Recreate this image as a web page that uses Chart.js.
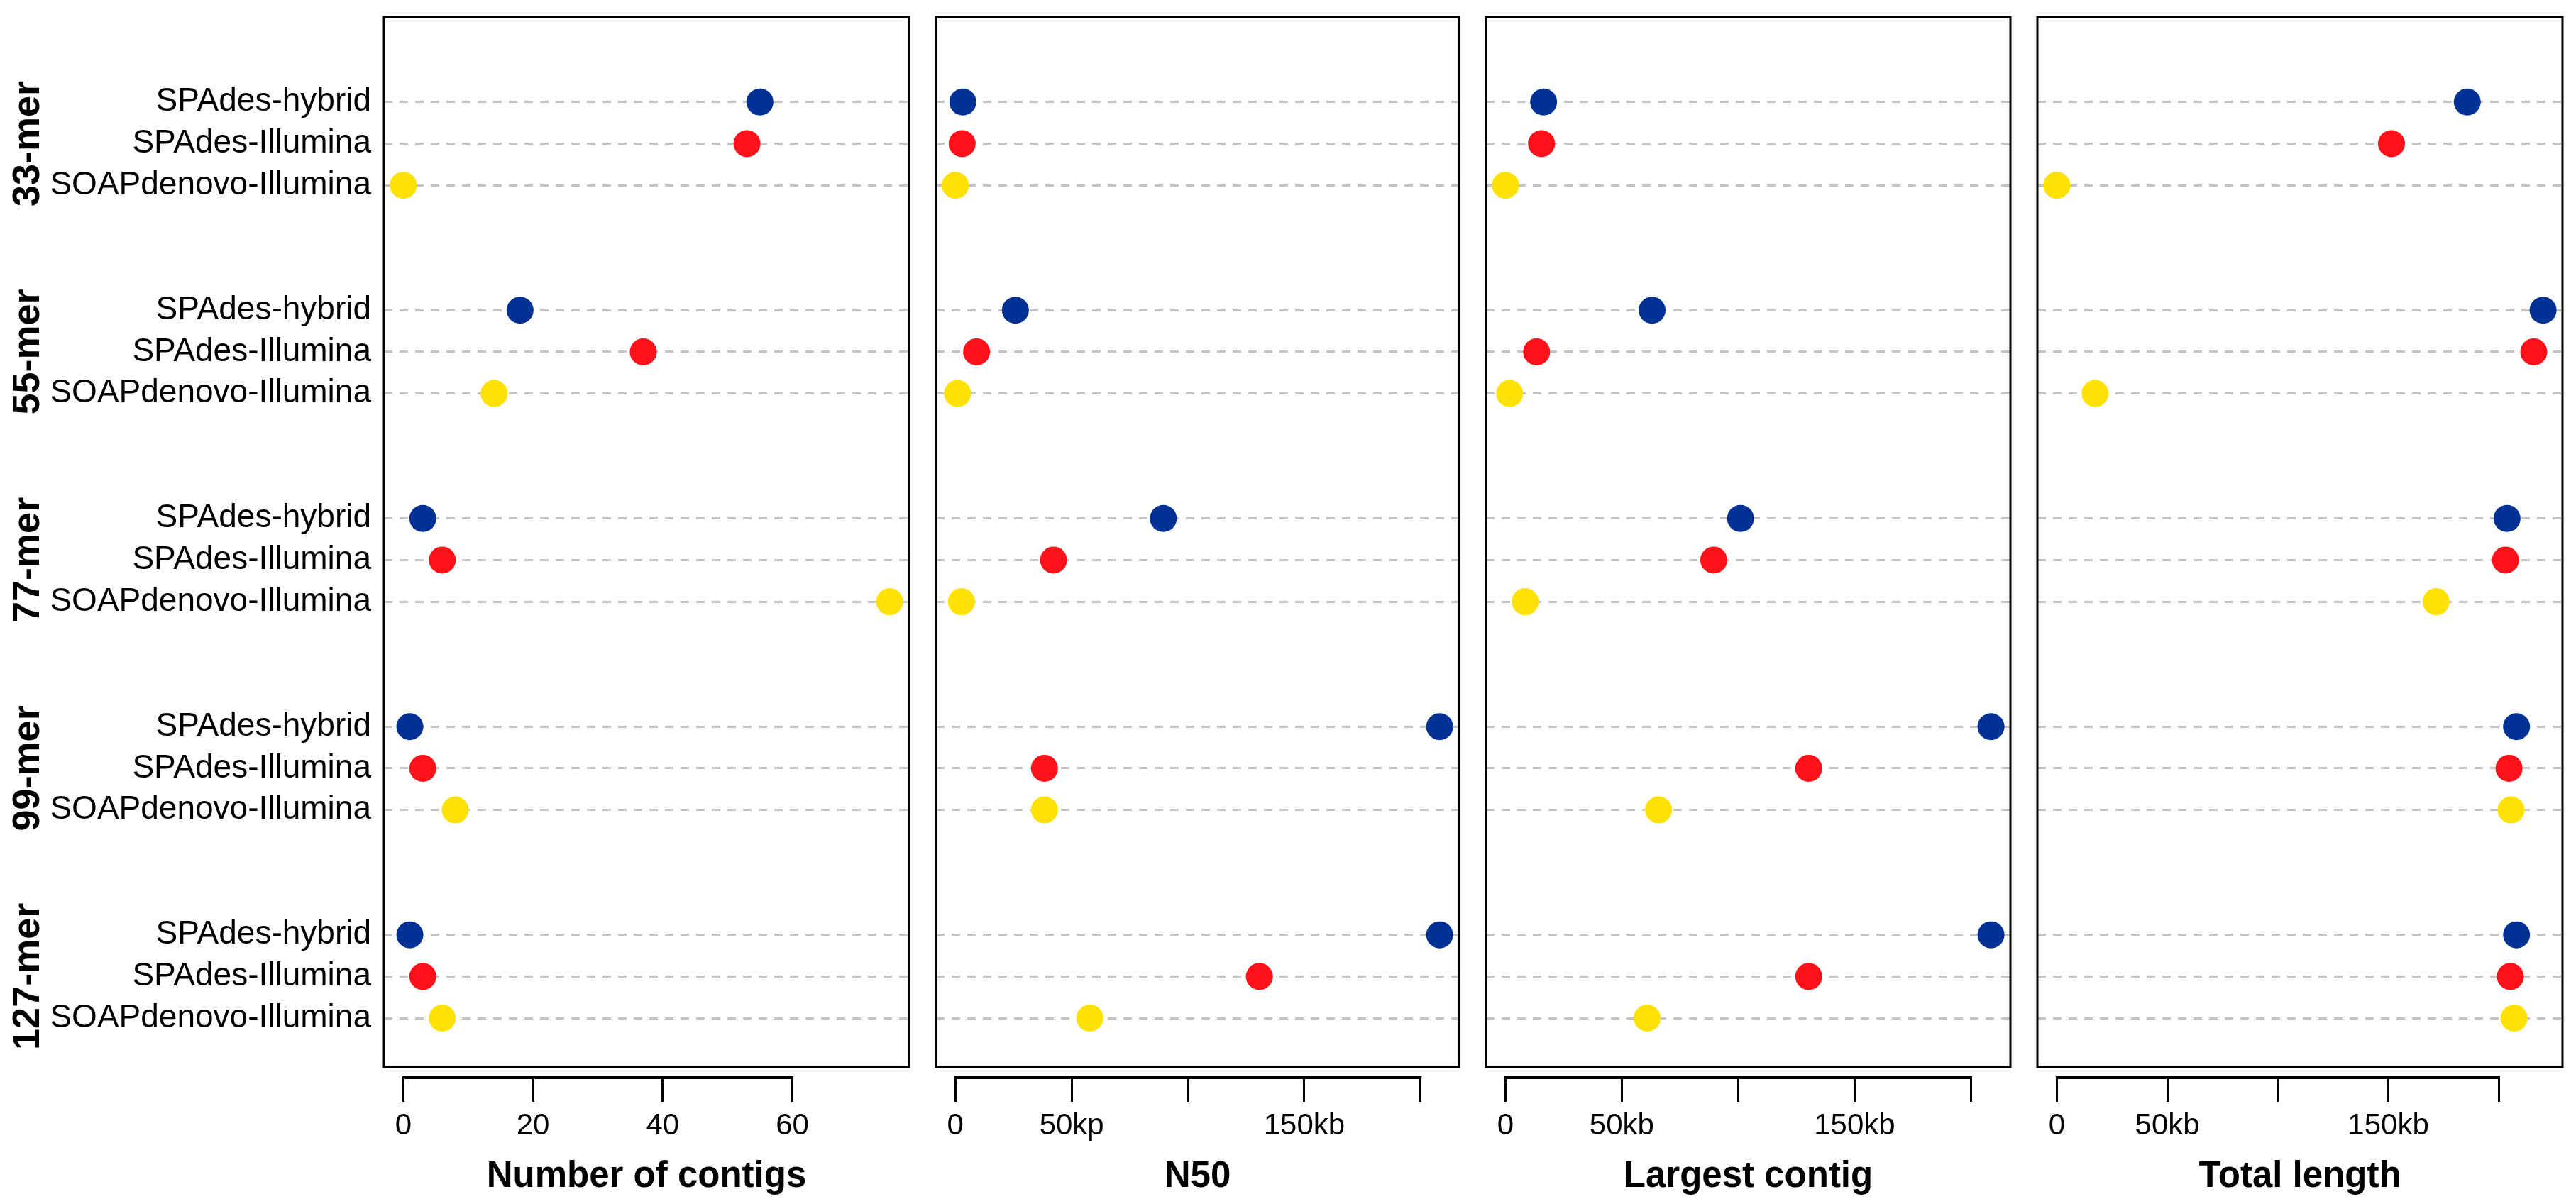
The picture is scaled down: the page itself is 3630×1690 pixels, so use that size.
<!DOCTYPE html>
<html lang="en">
<head>
<meta charset="UTF-8">
<title>Assembly statistics by k-mer</title>
<script src="https://cdn.jsdelivr.net/npm/chart.js"></script>
<style>
  body { margin: 0; background: #fff; }
  #wrap { position: relative; width: 3630px; height: 1690px; }
  canvas { position: absolute; top: 0; }
</style>
</head>
<body>
<div id="wrap">
  <canvas id="contigs" width="1300" height="1690" style="left:0px"></canvas>
  <canvas id="n50" width="775" height="1690" style="left:1300px"></canvas>
  <canvas id="largest" width="777" height="1690" style="left:2075px"></canvas>
  <canvas id="total" width="778" height="1690" style="left:2852px"></canvas>
</div>
<script>
// groups (top to bottom) and assemblers inside each group
const kmers = ['33-mer', '55-mer', '77-mer', '99-mer', '127-mer'];
const methods = ['SPAdes-hybrid', 'SPAdes-Illumina', 'SOAPdenovo-Illumina'];

// Number of contigs, one value per k-mer
const contigsHybrid = [55, 18, 3, 1, 1];
const contigsIllumina = [53, 37, 6, 3, 3];
const contigsSoap = [0, 14, 75, 8, 6];

// N50 (kb)
const n50Hybrid = [3.2, 25.8, 89.4, 208.2, 208.2];
const n50Illumina = [2.9, 9.1, 42.2, 38.3, 130.7];
const n50Soap = [0, 0.9, 2.6, 38.3, 57.8];

// Largest contig (kb)
const largestHybrid = [16.4, 63, 101, 208.6, 208.6];
const largestIllumina = [15.5, 13.4, 89.5, 130.3, 130.3];
const largestSoap = [0, 1.8, 8.5, 65.8, 60.9];

// Total length (kb)
const totalHybrid = [185.7, 220, 203.7, 208, 208];
const totalIllumina = [151.4, 215.8, 203, 204.6, 205.2];
const totalSoap = [0, 17.3, 171.6, 205.5, 206.9];

// axis ticks
const contigTicks = [0, 20, 40, 60];
const contigTickLabels = ['0', '20', '40', '60'];
const kbTicks = [0, 50, 100, 150, 200];
const n50TickLabels = ['0', '50kp', '', '150kb', ''];
const kbTickLabels = ['0', '50kb', '', '150kb', ''];

const dotColors = ['#003194', '#fe1119', '#ffe203'];
const FONT = '"Liberation Sans", Arial, Helvetica, sans-serif';

// row position of every dot: 3 rows per group, 2 empty rows between groups
const rows = [];
kmers.forEach((k, g) => methods.forEach((m, i) => rows.push(g * 5 + i)));

// box round the plot and the R-like axis line from first to last tick
const panelFrame = {
  id: 'panelFrame',
  afterDraw(chart) {
    const { ctx, chartArea: a, scales: { x } } = chart;
    ctx.save();
    ctx.strokeStyle = '#000';
    ctx.lineWidth = 3;
    ctx.strokeRect(a.left, a.top, a.right - a.left, a.bottom - 15 - a.top);
    const t = x.ticks;
    ctx.lineWidth = 4;
    ctx.beginPath();
    ctx.moveTo(x.getPixelForValue(t[0].value) - 1.5, a.bottom);
    ctx.lineTo(x.getPixelForValue(t[t.length - 1].value) + 1.5, a.bottom);
    ctx.stroke();
    ctx.restore();
  }
};

// rotated k-mer group names on the far left
const kmerLabels = {
  id: 'kmerLabels',
  afterDraw(chart) {
    const { ctx, scales: { y } } = chart;
    ctx.save();
    ctx.font = 'bold 54px ' + FONT;
    ctx.fillStyle = '#000';
    ctx.textAlign = 'center';
    ctx.textBaseline = 'middle';
    kmers.forEach((k, g) => {
      ctx.save();
      ctx.translate(40, y.getPixelForValue(g * 5 + 1));
      ctx.rotate(-Math.PI / 2);
      ctx.fillText(k, 0, 0);
      ctx.restore();
    });
    ctx.restore();
  }
};

function makePanel(id, title, series, ticks, tickLabels, showNames, pad) {
  const hi = Math.max(...series.flat());
  const ext = 0.04 * hi;
  return new Chart(document.getElementById(id), {
    type: 'scatter',
    data: {
      datasets: methods.map((m, i) => ({
        label: m,
        data: series[i].map((v, g) => ({ x: v, y: g * 5 + i })),
        backgroundColor: dotColors[i],
        borderColor: dotColors[i],
        pointRadius: 19,
        pointBorderWidth: 0
      }))
    },
    options: {
      responsive: false,
      animation: false,
      devicePixelRatio: 1,
      events: [],
      layout: { padding: { left: pad[0], right: pad[1], top: 24, bottom: 0 } },
      plugins: { legend: { display: false }, tooltip: { enabled: false } },
      scales: {
        x: {
          type: 'linear',
          min: -ext,
          max: hi + ext,
          afterBuildTicks: s => { s.ticks = ticks.map(v => ({ value: v })); },
          afterFit: s => { s.height = 171; s.paddingLeft = 0; s.paddingRight = 0; },
          grid: { drawOnChartArea: false, drawTicks: true, tickLength: 34, tickColor: '#000', tickWidth: 3, lineWidth: 3 },
          border: { display: false },
          ticks: {
            autoSkip: false, maxRotation: 0, padding: 9, color: '#000',
            font: { family: FONT, size: 42 },
            callback: (v, i) => tickLabels[i]
          },
          title: {
            display: true, text: title, color: '#000',
            font: { family: FONT, size: 51, weight: 'bold' },
            padding: { top: 0, bottom: 0 }
          }
        },
        y: {
          type: 'linear',
          reverse: true,
          min: -2.04,
          max: 23.43,
          afterBuildTicks: s => { s.ticks = rows.map(v => ({ value: v })); },
          afterFit: s => { s.width = showNames ? 541 : 0; s.paddingTop = 0; s.paddingBottom = 0; },
          grid: { drawTicks: false, color: '#c4c4c4', lineWidth: 3 },
          border: { display: false, dash: [12, 10] },
          ticks: {
            display: showNames, padding: 18, color: '#000',
            font: { family: FONT, size: 46 },
            callback: v => methods[v % 5]
          }
        }
      }
    },
    plugins: showNames ? [panelFrame, kmerLabels] : [panelFrame]
  });
}

makePanel('contigs', 'Number of contigs',
  [contigsHybrid, contigsIllumina, contigsSoap], contigTicks, contigTickLabels, true, [0, 19]);
makePanel('n50', 'N50',
  [n50Hybrid, n50Illumina, n50Soap], kbTicks, n50TickLabels, false, [18, 17]);
makePanel('largest', 'Largest contig',
  [largestHybrid, largestIllumina, largestSoap], kbTicks, kbTickLabels, false, [18, 18]);
makePanel('total', 'Total length',
  [totalHybrid, totalIllumina, totalSoap], kbTicks, kbTickLabels, false, [18, 19]);
</script>
</body>
</html>
